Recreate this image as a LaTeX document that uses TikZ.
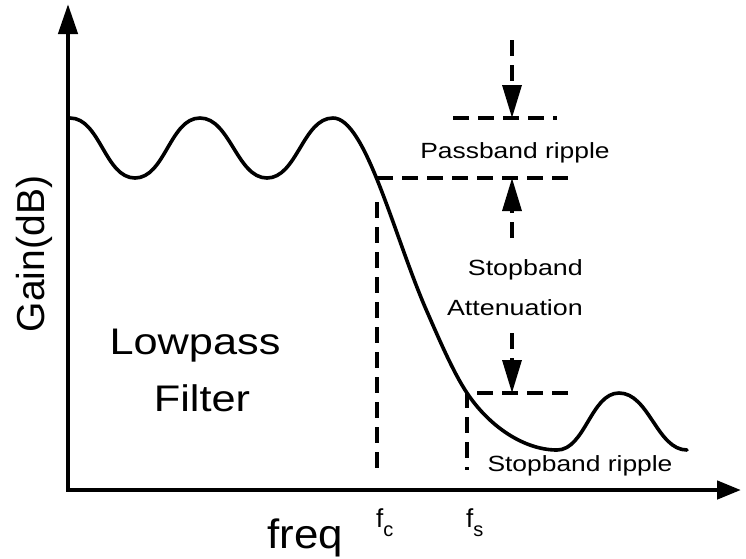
\documentclass[tikz,border=0pt]{standalone}
\usepackage{fontspec}
\setmainfont{Liberation Sans}
\usetikzlibrary{arrows.meta}
\newcommand{\stretchtext}[2][1.2]{\scalebox{#1}[1]{#2}}
\begin{document}
\begin{tikzpicture}[x=1pt,y=-1pt,
  axes/.style={line width=4.5pt, line join=miter,
    {Triangle[length=30pt,width=19pt]}-{Triangle[length=24pt,width=18pt]}},
  response/.style={line width=3.6pt, line cap=round},
  guide/.style={line width=3.4pt, dash pattern=on 16pt off 9pt},
  dimarrow/.style={guide, -{Triangle[length=33pt,width=19pt]}},
  lbl/.style={inner sep=0pt, font=\fontsize{22}{26}\selectfont},
  biglbl/.style={inner sep=0pt, font=\fontsize{37}{44}\selectfont}]
\useasboundingbox (0,0) rectangle (746,558);

% axes
\coordinate (ytip) at (68,4);
\coordinate (O) at (68,490);
\coordinate (xtip) at (741,490);
\draw[axes] (ytip) -- (O) -- (xtip);

% frequency response: passband ripple, roll-off, stopband ripple
\draw[response] (70,118)
  .. controls (100,118) and (105,178) .. (135,178)
  .. controls (165,178) and (170,118) .. (200,118)
  .. controls (230,118) and (237,178) .. (267,178)
  .. controls (297,178) and (303,118) .. (333,118)
  .. controls (365,118) and (393,232) .. (425,307)
  .. controls (439,339) and (453,372) .. (467,393)
  .. controls (490,427.5) and (525,450) .. (557,450)
  .. controls (585,450) and (591,393) .. (619,393)
  .. controls (649,393) and (657,450) .. (687,450);

% guide lines
\coordinate (fcTop) at (377,202);
\coordinate (fcBot) at (377,470);
\coordinate (fsBot) at (467,470);
\coordinate (fsCorner) at (467,393);
\coordinate (sbEnd) at (568,393);
\coordinate (pbLowL) at (377,178);
\coordinate (pbLowR) at (568,178);
\coordinate (pbTopL) at (453,118);
\coordinate (pbTopR) at (557,118);
\draw[guide] (fcTop) -- (fcBot);
\draw[guide] (sbEnd) -- (fsCorner) -- (fsBot);
\draw[guide] (pbLowL) -- (pbLowR);
\draw[guide] (pbTopL) -- (pbTopR);

% dimension arrows
\coordinate (a1s) at (512,40);
\coordinate (a1e) at (512,118);
\coordinate (a2s) at (512,238);
\coordinate (a2e) at (512,178);
\coordinate (a3s) at (512,333);
\coordinate (a3e) at (512,393);
\draw[dimarrow] (a1s) -- (a1e);
\draw[dimarrow] (a2s) -- (a2e);
\draw[dimarrow] (a3s) -- (a3e);

% labels
\node[lbl, anchor=base] (pr) at (515,158) {\stretchtext{Passband ripple}};
\node[lbl, anchor=base east] (sb) at (583,275) {\stretchtext[1.22]{Stopband}};
\node[lbl, anchor=base east] (att) at (583,315) {\stretchtext[1.22]{Attenuation}};
\node[lbl, anchor=base] (sr) at (580,471) {\stretchtext{Stopband ripple}};
\node[biglbl, anchor=base] (lp) at (195,354) {\stretchtext[1.17]{Lowpass}};
\node[biglbl, anchor=base] (fi) at (202,411) {\stretchtext[1.17]{Filter}};
\node[inner sep=0pt, font=\fontsize{39}{46}\selectfont, rotate=90, anchor=base]
  (gain) at (44,254) {Gain(dB)};
\node[inner sep=0pt, font=\fontsize{41}{48}\selectfont, anchor=base]
  (freq) at (305,548) {\stretchtext[1.07]{freq}};
\node[inner sep=0pt, font=\fontsize{26}{30}\selectfont, anchor=base west]
  (fc) at (376,527) {f\raisebox{-9pt}{\fontsize{20}{22}\selectfont c}};
\node[inner sep=0pt, font=\fontsize{26}{30}\selectfont, anchor=base west]
  (fs) at (466,527) {f\raisebox{-9pt}{\fontsize{20}{22}\selectfont s}};
\end{tikzpicture}
\end{document}
